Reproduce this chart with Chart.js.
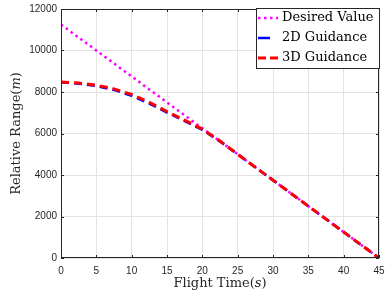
<!DOCTYPE html>
<html>
<head>
<meta charset="utf-8">
<script src="https://cdn.jsdelivr.net/npm/chart.js@4.4.1/dist/chart.umd.min.js"></script>
<style>
  html, body { margin: 0; padding: 0; background: #fff; }
  #wrap { width: 385px; height: 296px; }
</style>
</head>
<body>
<div id="wrap"><canvas id="c" width="385" height="296"></canvas></div>
<script>
// flight time samples (s)
const flightTime = [0, 2.5, 5, 7.5, 10, 12.5, 15, 17.5, 20, 22.5, 25, 27.5, 30, 32.5, 35, 37.5, 40, 42.5, 45];
// relative range (m)
const desiredValue = [11250, 10625, 10000, 9375, 8750, 8125, 7500, 6875, 6250, 5625, 5000, 4375, 3750, 3125, 2500, 1875, 1250, 625, 0];
const guidance2D = [8470, 8400, 8290, 8100, 7820, 7440, 7010, 6600, 6170, 5620, 5000, 4375, 3750, 3125, 2500, 1875, 1250, 625, 0];
const guidance3D = [8480, 8430, 8330, 8150, 7880, 7500, 7060, 6640, 6210, 5640, 5000, 4375, 3750, 3125, 2500, 1875, 1250, 625, 0];
const xTicks = [0, 5, 10, 15, 20, 25, 30, 35, 40, 45];
const yTicks = [0, 2000, 4000, 6000, 8000, 10000, 12000];

const serif = '"DejaVu Serif", "Liberation Serif", serif';
const sans = '"Liberation Sans", Arial, sans-serif';
const titleSize = 13;

function pts(ys) {
  return flightTime.map((t, i) => ({ x: t, y: ys[i] }));
}

function drawMixed(ctx, parts, x, y) {
  // parts: [text, italic]
  let total = 0;
  parts.forEach(([t, it]) => {
    ctx.font = (it ? 'italic ' : '') + titleSize + 'px ' + serif;
    total += ctx.measureText(t).width;
  });
  let cx = x - total / 2;
  parts.forEach(([t, it]) => {
    ctx.font = (it ? 'italic ' : '') + titleSize + 'px ' + serif;
    ctx.fillText(t, cx, y);
    cx += ctx.measureText(t).width;
  });
}

const framePlugin = {
  id: 'frame',
  afterDraw(chart) {
    const ctx = chart.ctx;
    const a = chart.chartArea;
    const xs = chart.scales.x, ys = chart.scales.y;
    ctx.save();
    ctx.strokeStyle = '#262626';
    ctx.lineWidth = 1;
    ctx.beginPath();
    xTicks.forEach(v => {
      const px = Math.round(xs.getPixelForValue(v)) + 0.5;
      ctx.moveTo(px, a.bottom); ctx.lineTo(px, a.bottom - 3);
      ctx.moveTo(px, a.top); ctx.lineTo(px, a.top + 3);
    });
    yTicks.forEach(v => {
      const py = Math.round(ys.getPixelForValue(v)) + 0.5;
      ctx.moveTo(a.left, py); ctx.lineTo(a.left + 3, py);
      ctx.moveTo(a.right, py); ctx.lineTo(a.right - 3, py);
    });
    ctx.stroke();
    ctx.strokeRect(Math.round(a.left) + 0.5, Math.round(a.top) + 0.5,
      Math.round(a.right - a.left) - 1, Math.round(a.bottom - a.top) - 1);

    // axis titles
    ctx.fillStyle = '#262626';
    ctx.textBaseline = 'middle';
    drawMixed(ctx, [['Flight Time(', false], ['s', true], [')', false]], (a.left + a.right) / 2, 284);
    ctx.save();
    ctx.translate(17, (a.top + a.bottom) / 2);
    ctx.rotate(-Math.PI / 2);
    drawMixed(ctx, [['Relative Range(', false], ['m', true], [')', false]], 0, 0);
    ctx.restore();

    // legend box inside the plot
    const bx = 256, by = 8, bw = a.right - 256 + 1, bh = 61;
    ctx.fillStyle = '#fff';
    ctx.fillRect(bx, by, bw, bh);
    ctx.strokeStyle = '#262626';
    ctx.strokeRect(bx + 0.5, by + 0.5, bw - 1, bh - 1);
    const rows = [18, 38, 58];
    chart.data.datasets.forEach((ds, i) => {
      const y = rows[i];
      ctx.save();
      ctx.strokeStyle = ds.borderColor;
      ctx.lineWidth = ds.borderWidth;
      ctx.setLineDash(ds.legendDash);
      ctx.beginPath();
      ctx.moveTo(258, y); ctx.lineTo(278, y);
      ctx.stroke();
      ctx.restore();
      ctx.fillStyle = '#000';
      ctx.font = titleSize + 'px ' + serif;
      ctx.textBaseline = 'middle';
      ctx.fillText(ds.label, 282, y);
    });
    ctx.restore();
  }
};

new Chart(document.getElementById('c'), {
  type: 'line',
  data: {
    datasets: [
      {
        label: 'Desired Value',
        data: pts(desiredValue),
        borderColor: '#ff00ff',
        borderWidth: 2.5,
        borderDash: [2.5, 3.5],
        legendDash: [2.5, 3.5],
        pointRadius: 0,
        order: 3
      },
      {
        label: '2D Guidance',
        data: pts(guidance2D),
        borderColor: '#0000ff',
        borderWidth: 2.5,
        borderDash: [8, 5],
        legendDash: [12, 30],
        pointRadius: 0,
        order: 2
      },
      {
        label: '3D Guidance',
        data: pts(guidance3D),
        borderColor: '#ff0000',
        borderWidth: 3,
        borderDash: [8, 5],
        legendDash: [8, 4],
        pointRadius: 0,
        order: 1
      }
    ]
  },
  options: {
    responsive: false,
    animation: false,
    events: [],
    layout: { padding: { left: 0, right: 6, top: 9, bottom: 0 } },
    plugins: {
      legend: { display: false },
      tooltip: { enabled: false }
    },
    scales: {
      x: {
        type: 'linear',
        min: 0,
        max: 45,
        afterBuildTicks(s) { s.ticks = xTicks.map(v => ({ value: v })); },
        afterFit(s) { s.height = 38; s.paddingLeft = 0; s.paddingRight = 0; },
        grid: { color: '#e3e3e3', drawTicks: false },
        border: { display: false },
        ticks: { color: '#262626', padding: 7, font: { family: sans, size: 10 }, maxRotation: 0 }
      },
      y: {
        type: 'linear',
        min: 0,
        max: 12000,
        afterBuildTicks(s) { s.ticks = yTicks.map(v => ({ value: v })); },
        afterFit(s) { s.width = 61; s.paddingTop = 0; s.paddingBottom = 0; },
        grid: { color: '#e3e3e3', drawTicks: false },
        border: { display: false },
        ticks: { color: '#262626', padding: 4, font: { family: sans, size: 10 }, callback: v => String(v) }
      }
    }
  },
  plugins: [framePlugin]
});
</script>
</body>
</html>
